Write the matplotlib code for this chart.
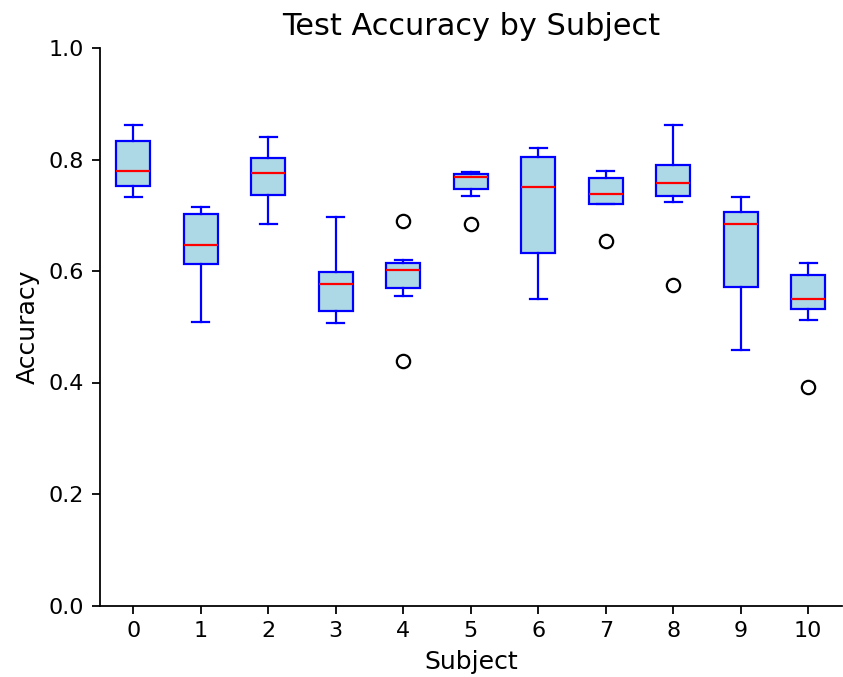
import matplotlib
matplotlib.use("Agg")
import matplotlib.pyplot as plt

# per-subject test accuracy summary (quartiles, whisker ends, outliers)
subjects = list(range(11))
medians = [0.780, 0.647, 0.775, 0.576, 0.601, 0.769, 0.750, 0.739, 0.758, 0.685, 0.549]
q1s = [0.752, 0.612, 0.737, 0.528, 0.569, 0.747, 0.632, 0.721, 0.734, 0.572, 0.531]
q3s = [0.834, 0.703, 0.803, 0.598, 0.614, 0.774, 0.804, 0.766, 0.791, 0.706, 0.592]
whisker_low = [0.733, 0.508, 0.685, 0.506, 0.555, 0.734, 0.549, 0.721, 0.723, 0.458, 0.512]
whisker_high = [0.861, 0.714, 0.840, 0.696, 0.620, 0.777, 0.821, 0.780, 0.861, 0.733, 0.614]
outliers = [[], [], [], [], [0.690, 0.438], [0.684], [], [0.653], [0.574], [], [0.392]]

stats = []
for i in range(len(subjects)):
    stats.append({
        "med": medians[i],
        "q1": q1s[i],
        "q3": q3s[i],
        "whislo": whisker_low[i],
        "whishi": whisker_high[i],
        "fliers": outliers[i],
        "label": str(subjects[i]),
    })

fig = plt.figure(figsize=(843 / 160, 677 / 160), dpi=160)
ax = fig.add_axes([99.5 / 843, 1 - 605.5 / 677, (842 - 99.5) / 843, (605.5 - 48) / 677])

ax.bxp(
    stats,
    patch_artist=True,
    boxprops=dict(facecolor="lightblue", edgecolor="blue"),
    medianprops=dict(color="red"),
    whiskerprops=dict(color="blue"),
    capprops=dict(color="blue"),
)

ax.set_ylim(0, 1.0)
ax.set_title("Test Accuracy by Subject", fontsize=13.7)
ax.set_xlabel("Subject", fontsize=11.3)
ax.set_ylabel("Accuracy", fontsize=11.3)
ax.spines["top"].set_visible(False)
ax.spines["right"].set_visible(False)

fig.savefig("out.png", dpi=160)
